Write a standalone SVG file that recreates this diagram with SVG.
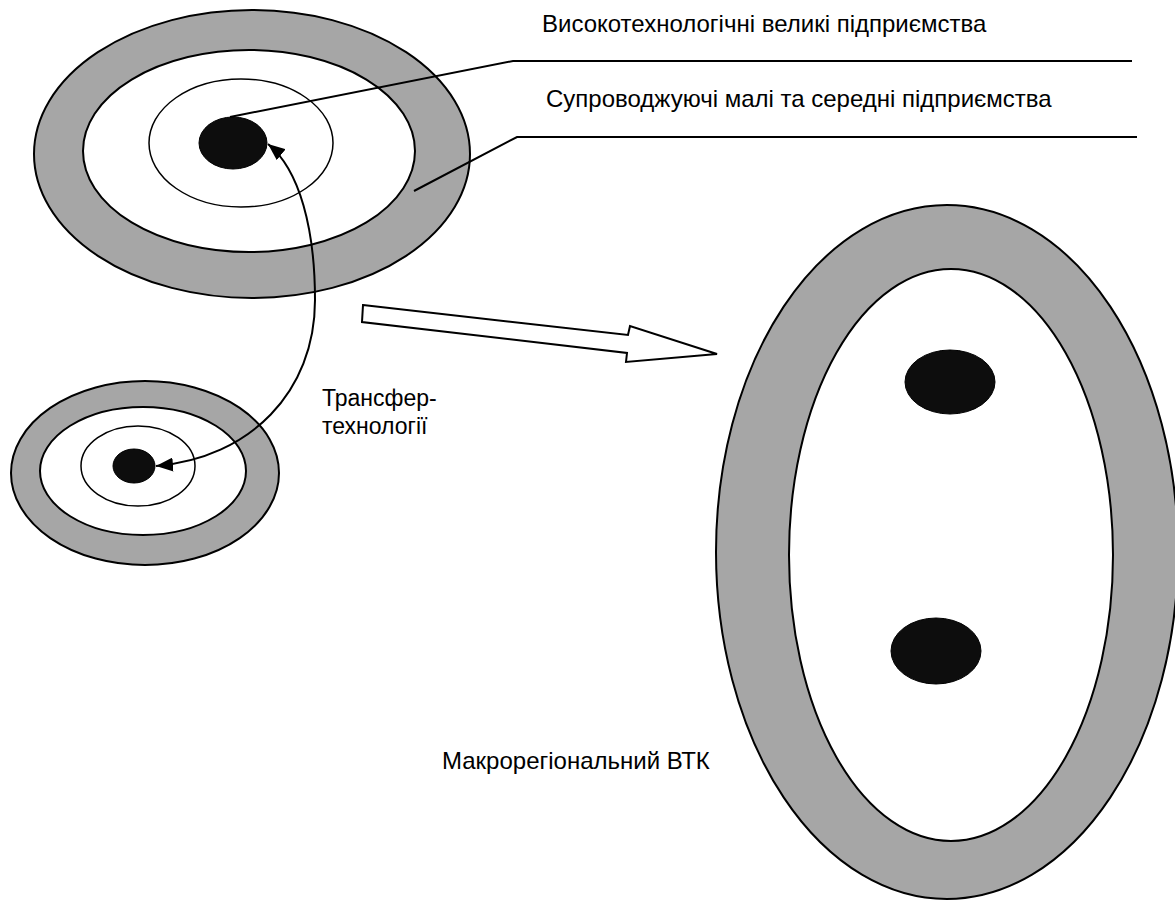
<svg xmlns="http://www.w3.org/2000/svg" width="1175" height="901" viewBox="0 0 1175 901">
<style>
.ring{fill:#a6a6a6;stroke:#000;stroke-width:2}
.white{fill:#fff;stroke:#000;stroke-width:2}
.thin{fill:#fff;stroke:#000;stroke-width:1.5}
.core{fill:#0d0d0d;stroke:#000;stroke-width:1}
.lead{fill:none;stroke:#000;stroke-width:2}
.lbl{font-family:"Liberation Sans",Arial,sans-serif;font-size:24px;fill:#000}
.sm{font-size:23px}
</style>
<defs>
<marker id="ah" markerUnits="userSpaceOnUse" markerWidth="18" markerHeight="14" viewBox="0 0 18 14" refX="17" refY="7" orient="auto-start-reverse">
<path d="M0,0 L17,7 L0,14 Z" fill="#000"/>
</marker>
</defs>
<rect width="1175" height="901" fill="#fff"/>
<g id="cluster-top">
<ellipse class="ring" cx="252" cy="154" rx="218" ry="144"/>
<ellipse class="white" cx="249" cy="151" rx="166" ry="101"/>
<ellipse class="thin" cx="241" cy="143" rx="92" ry="64"/>
<ellipse class="core" cx="233" cy="143" rx="34" ry="26"/>
</g>
<g id="cluster-small">
<ellipse class="ring" cx="145" cy="473" rx="134" ry="92"/>
<ellipse class="white" cx="143" cy="471" rx="103" ry="64"/>
<ellipse class="thin" cx="138" cy="466" rx="57" ry="40"/>
<ellipse class="core" cx="134" cy="466" rx="21" ry="17"/>
</g>
<g id="macro-vtk">
<ellipse class="ring" cx="947" cy="552" rx="231" ry="347"/>
<ellipse class="white" cx="951" cy="555" rx="162" ry="286"/>
<ellipse class="core" cx="950" cy="382" rx="45" ry="32"/>
<ellipse class="core" cx="936" cy="651" rx="45" ry="33"/>
</g>
<g id="connectors">
<polyline class="lead" points="230,117 513,61 1132,61"/>
<polyline class="lead" points="414,191 517,137 1137,137"/>
<path class="lead" d="M268,144 C300,170 315,230 315,300 C315,392 250,458 156,466" marker-start="url(#ah)" marker-end="url(#ah)"/>
<polygon points="363,305 628,335 630,326 717,354 626,362 627,353 362,322" fill="#fff" stroke="#000" stroke-width="2" stroke-linejoin="miter"/>
</g>
<g id="labels">
<text class="lbl" x="542" y="32">Високотехнологічні великі підприємства</text>
<text class="lbl" x="546" y="107">Супроводжуючі малі та середні підприємства</text>
<text class="lbl sm" x="322" y="406">Трансфер-</text>
<text class="lbl sm" x="322" y="434">технології</text>
<text class="lbl" x="442" y="769">Макрорегіональний ВТК</text>
</g>
</svg>
